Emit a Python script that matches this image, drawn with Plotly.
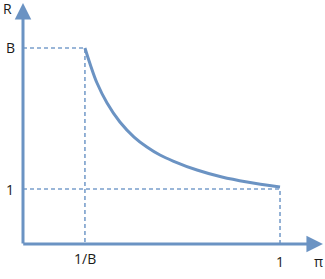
import plotly.graph_objects as go

# Data (schematic): price ratio pi vs. R
inv_B = 0.241
B = 3.564
curve_pi = [0.241, 0.261, 0.288, 0.327, 0.377, 0.432, 0.482, 0.533, 0.584, 0.677, 0.774, 0.872, 1.0]
curve_R = [3.564, 3.273, 2.927, 2.564, 2.218, 1.945, 1.764, 1.618, 1.509, 1.345, 1.218, 1.127, 1.036]
x_tick_labels = ["1/B", "1"]
y_tick_labels = ["B", "1"]

blue = "#6b93c3"
dash_blue = "#7a9fcb"

fig = go.Figure()

# dashed guides
fig.add_trace(go.Scatter(x=[0, inv_B, inv_B], y=[B, B, 0], mode="lines",
                         line=dict(color=dash_blue, width=1.6, dash="4px,3px"),
                         hoverinfo="skip", showlegend=False))
fig.add_trace(go.Scatter(x=[0, 1, 1], y=[1, 1, 0], mode="lines",
                         line=dict(color=dash_blue, width=1.6, dash="4px,3px"),
                         hoverinfo="skip", showlegend=False))
# curve
fig.add_trace(go.Scatter(x=curve_pi, y=curve_R, mode="lines",
                         line=dict(color=blue, width=3, shape="spline", smoothing=1.0),
                         hoverinfo="skip", showlegend=False))

# axes with arrows
fig.add_annotation(x=0, y=4.38, ax=0, ay=-0.02, xref="x", yref="y", axref="x", ayref="y",
                   showarrow=True, arrowhead=2, arrowsize=1.1, arrowwidth=3, arrowcolor=blue, text="")
fig.add_annotation(x=1.167, y=0, ax=-0.005, ay=0, xref="x", yref="y", axref="x", ayref="y",
                   showarrow=True, arrowhead=2, arrowsize=1.1, arrowwidth=3, arrowcolor=blue, text="")

font = dict(family="Open Sans, Liberation Sans, sans-serif", size=14, color="#1a1a1a")
# labels
fig.add_annotation(x=-0.062, y=4.29, text="R", showarrow=False, font=font, xref="x", yref="y")
fig.add_annotation(x=-0.05, y=B, text=y_tick_labels[0], showarrow=False, font=font)
fig.add_annotation(x=-0.05, y=1, text=y_tick_labels[1], showarrow=False, font=font)
fig.add_annotation(x=inv_B, y=-0.27, text=x_tick_labels[0], showarrow=False, font=font)
fig.add_annotation(x=1, y=-0.32, text=x_tick_labels[1], showarrow=False, font=font)
fig.add_annotation(x=1.15, y=-0.32, text="π", showarrow=False, font=font)

fig.update_xaxes(range=[-0.0895, 1.175], visible=False, fixedrange=True)
fig.update_yaxes(range=[-0.636, 4.436], visible=False, fixedrange=True)
fig.update_layout(width=325, height=279, margin=dict(l=0, r=0, t=0, b=0),
                  paper_bgcolor="white", plot_bgcolor="white")

fig.write_html("out.html")
